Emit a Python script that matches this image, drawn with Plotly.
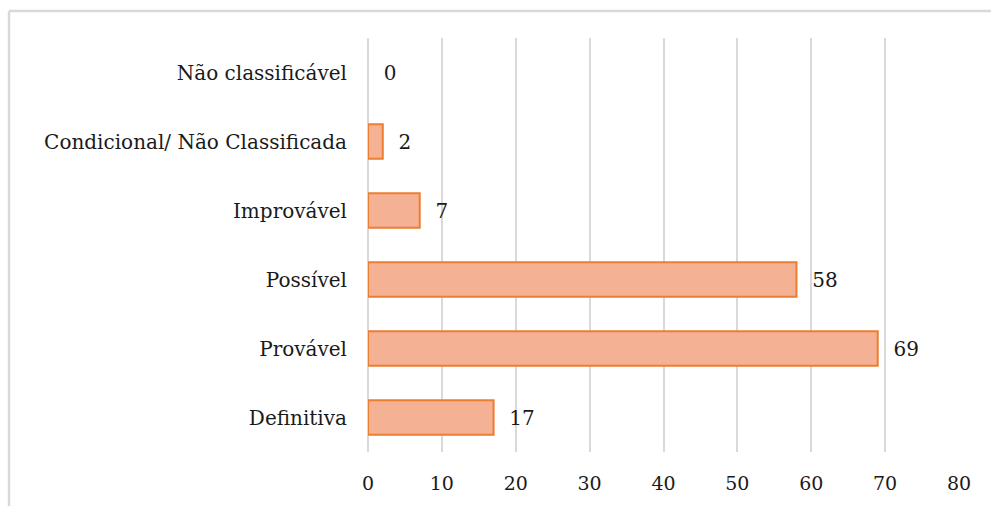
import plotly.graph_objects as go

categories = ["Definitiva", "Provável", "Possível", "Improvável",
              "Condicional/ Não Classificada", "Não classificável"]
values = [17, 69, 58, 7, 2, 0]
x_ticks = [0, 10, 20, 30, 40, 50, 60, 70, 80]

W, H = 991, 506
L, R, T, B = 368, 32, 38, 54

fig = go.Figure()
fig.add_trace(go.Bar(
    x=values, y=categories, orientation="h",
    marker=dict(color="#F4B193",
                line=dict(color="#ED7D31", width=[0 if v == 0 else 2 for v in values])),
    text=[f"\u00a0\u00a0{v}" for v in values],
    textposition="outside", cliponaxis=False,
    textfont=dict(family="DejaVu Serif", size=20, color="#1a1a1a"),
    width=0.5,
))

pw = W - L - R
ph = H - T - B
bx = (9 - L) / pw
by = (ph + T - 11) / ph

fig.update_layout(
    width=W, height=H,
    margin=dict(l=L, r=R, t=T, b=B, pad=0),
    paper_bgcolor="white", plot_bgcolor="white",
    showlegend=False,
    font=dict(family="DejaVu Serif", size=20, color="#1a1a1a"),
    xaxis=dict(range=[0, 80], tickvals=x_ticks, showgrid=True,
               gridcolor="#D9D9D9", gridwidth=1.5, zeroline=True,
               zerolinecolor="#D9D9D9", zerolinewidth=1.5,
               showline=False, ticks="", ticklabelstandoff=18,
               tickfont=dict(size=19, color="#1a1a1a")),
    yaxis=dict(categoryorder="array", categoryarray=categories,
               showgrid=False, showline=False, ticks="",
               ticklabelstandoff=20,
               tickfont=dict(size=20, color="#1a1a1a")),
    shapes=[
        dict(type="line", xref="paper", yref="paper", x0=bx, x1=2, y0=by, y1=by,
             line=dict(color="#D9D9D9", width=2.5)),
        dict(type="line", xref="paper", yref="paper", x0=bx, x1=bx, y0=by, y1=-2,
             line=dict(color="#D9D9D9", width=2.5)),
    ],
)

fig.write_html("out.html")
